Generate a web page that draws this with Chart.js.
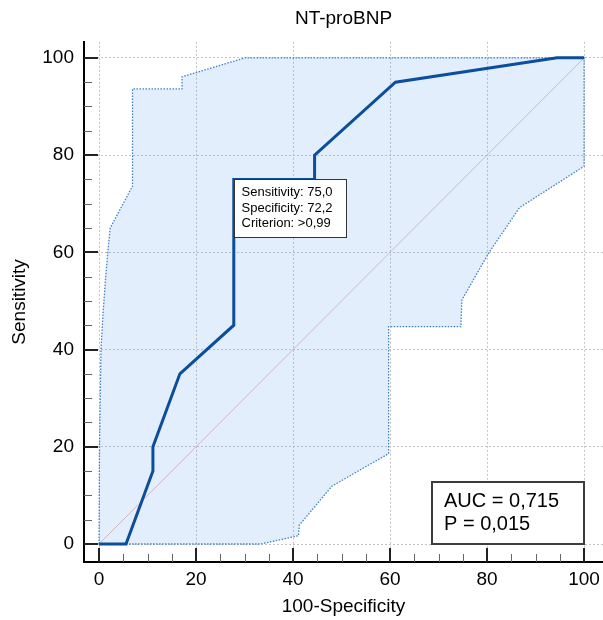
<!DOCTYPE html>
<html>
<head>
<meta charset="utf-8">
<title>NT-proBNP ROC</title>
<script src="https://cdn.jsdelivr.net/npm/chart.js@4.4.0/dist/chart.umd.min.js"></script>
<style>
  html, body { margin: 0; padding: 0; background: #fff; }
  #wrap { width: 603px; height: 620px; }
</style>
</head>
<body>
<div id="wrap"><canvas id="roc"></canvas></div>
<script>
// --- ROC curve (100-Specificity, Sensitivity) ---
var rocX = [0, 5.56, 11.11, 11.11, 16.67, 27.78, 27.78, 44.44, 44.44, 61.11, 94.44, 100];
var rocY = [0, 0, 15, 20, 35, 45, 75, 75, 80, 95, 100, 100];

// --- confidence band ---
var upperX = [0, 0.1, 0.4, 0.8, 1.3, 1.8, 2.3, 6.9, 6.9, 17.1, 17.1, 30.1, 100];
var upperY = [0, 20, 40, 47, 54, 60, 65, 73.6, 93.6, 93.6, 96.1, 100, 100];
var lowerX = [0, 33.3, 41.1, 41.3, 48, 59.7, 59.7, 74.6, 74.8, 80.3, 86.7, 100, 100];
var lowerY = [0, 0, 1.7, 3.9, 11.9, 18.6, 44.7, 44.7, 50.2, 59.8, 69.2, 77.7, 100];

// --- reference diagonal ---
var diagX = [0, 100];
var diagY = [0, 100];

// --- axes ---
var xTicks = [0, 20, 40, 60, 80, 100];
var yTicks = [0, 20, 40, 60, 80, 100];
var xTickLabels = ['0', '20', '40', '60', '80', '100'];
var yTickLabels = ['0', '20', '40', '60', '80', '100'];
var minorStep = 5;

// --- annotations ---
var cutX = 27.78;
var cutY = 75;
var cutLabels = ['Sensitivity: 75,0', 'Specificity: 72,2', 'Criterion: >0,99'];
var statLabels = ['AUC = 0,715', 'P = 0,015'];

var FONT = '"Liberation Sans", Arial, sans-serif';
Chart.defaults.font.family = FONT;
Chart.defaults.color = '#000';

function pairs(xs, ys) {
  return xs.map(function (x, i) { return { x: x, y: ys[i] }; });
}

var bandPts = pairs(upperX, upperY).concat(pairs(lowerX, lowerY).reverse());

// inward tick marks on both axes
var tickMarks = {
  id: 'tickMarks',
  afterDatasetsDraw: function (chart) {
    var ctx = chart.ctx, a = chart.chartArea;
    var xs = chart.scales.x, ys = chart.scales.y;
    ctx.save();
    for (var v = 0; v <= 100; v += minorStep) {
      var major = v % 20 === 0;
      var len = major ? 14 : 8;
      ctx.lineWidth = major ? 2 : 1;
      ctx.strokeStyle = major ? '#222' : '#666';
      var px = Math.round(xs.getPixelForValue(v)) + (major ? 0 : 0.5);
      ctx.beginPath();
      ctx.moveTo(px, a.bottom);
      ctx.lineTo(px, a.bottom - len);
      ctx.stroke();
      var py = Math.round(ys.getPixelForValue(v)) + (major ? 0 : 0.5);
      ctx.beginPath();
      ctx.moveTo(a.left, py);
      ctx.lineTo(a.left + len, py);
      ctx.stroke();
    }
    ctx.restore();
  }
};

// text boxes: cut-off point and AUC
var textBoxes = {
  id: 'textBoxes',
  afterDatasetsDraw: function (chart) {
    var ctx = chart.ctx;
    var xs = chart.scales.x, ys = chart.scales.y;
    ctx.save();

    var bx = Math.round(xs.getPixelForValue(cutX)) + 0.5;
    var by = Math.round(ys.getPixelForValue(cutY)) + 0.5;
    ctx.fillStyle = '#fff';
    ctx.fillRect(bx, by, 112, 58);
    ctx.lineWidth = 1;
    ctx.strokeStyle = '#333';
    ctx.strokeRect(bx, by, 112, 58);
    ctx.fillStyle = '#000';
    ctx.font = '13px ' + FONT;
    ctx.textBaseline = 'middle';
    for (var i = 0; i < cutLabels.length; i++) {
      ctx.fillText(cutLabels[i], bx + 7, by + 13 + i * 15.5);
    }

    var rx = Math.round(xs.getPixelForValue(100));
    var ry = Math.round(ys.getPixelForValue(0));
    var w = 152, h = 62;
    ctx.fillStyle = '#fff';
    ctx.fillRect(rx - w, ry - h, w, h);
    ctx.lineWidth = 2;
    ctx.strokeStyle = '#3c3c3c';
    ctx.strokeRect(rx - w, ry - h, w, h);
    ctx.fillStyle = '#000';
    ctx.font = '20px ' + FONT;
    for (var j = 0; j < statLabels.length; j++) {
      ctx.fillText(statLabels[j], rx - w + 12, ry - h + 19 + j * 23);
    }
    ctx.restore();
  }
};

new Chart(document.getElementById('roc'), {
  type: 'scatter',
  data: {
    datasets: [{
      label: 'ROC',
      data: pairs(rocX, rocY),
      showLine: true,
      borderColor: '#0b4f9c',
      borderWidth: 3,
      pointRadius: 0,
      fill: false,
      order: 0
    }, {
      label: 'Diagonal',
      data: pairs(diagX, diagY),
      showLine: true,
      borderColor: '#d3b6c4',
      borderWidth: 1,
      pointRadius: 0,
      fill: false,
      order: 1
    }, {
      label: '95% CI',
      data: bandPts,
      showLine: true,
      borderColor: '#3f7fcc',
      borderWidth: 1.3,
      borderDash: [1.5, 1.5],
      backgroundColor: 'rgba(90, 155, 240, 0.17)',
      pointRadius: 0,
      fill: 'shape',
      order: 2
    }]
  },
  options: {
    responsive: true,
    maintainAspectRatio: false,
    animation: false,
    layout: { padding: 0 },
    plugins: {
      legend: { display: false },
      tooltip: { enabled: false },
      title: {
        display: true,
        text: 'NT-proBNP',
        fullSize: false,
        color: '#000',
        font: { size: 19, weight: 'normal' },
        padding: { top: 7, bottom: 12 }
      }
    },
    scales: {
      x: {
        type: 'linear',
        min: -3.1,
        max: 103.9,
        afterBuildTicks: function (s) { s.ticks = xTicks.map(function (v) { return { value: v }; }); },
        afterFit: function (s) { s.height = 58; s.paddingLeft = 0; s.paddingRight = 0; },
        grid: { color: '#c4c4c4', lineWidth: 1, drawTicks: false },
        border: { display: true, color: '#000', width: 2, dash: [2, 2] },
        ticks: {
          padding: 6,
          font: { size: 19 },
          color: '#000',
          maxRotation: 0,
          callback: function (v) { return xTickLabels[xTicks.indexOf(v)]; }
        },
        title: {
          display: true,
          text: '100-Specificity',
          color: '#000',
          font: { size: 19 },
          padding: { top: 0, bottom: 2 }
        }
      },
      y: {
        type: 'linear',
        min: -3.7,
        max: 103.3,
        afterBuildTicks: function (s) { s.ticks = yTicks.map(function (v) { return { value: v }; }); },
        afterFit: function (s) { s.width = 84; },
        grid: { color: '#c4c4c4', lineWidth: 1, drawTicks: false },
        border: { display: true, color: '#000', width: 2, dash: [2, 2] },
        ticks: {
          padding: 10,
          font: { size: 19 },
          color: '#000',
          callback: function (v) { return yTickLabels[yTicks.indexOf(v)]; }
        },
        title: {
          display: true,
          text: 'Sensitivity',
          color: '#000',
          font: { size: 19 },
          padding: { top: 8, bottom: 0 }
        }
      }
    }
  },
  plugins: [tickMarks, textBoxes]
});
</script>
</body>
</html>
